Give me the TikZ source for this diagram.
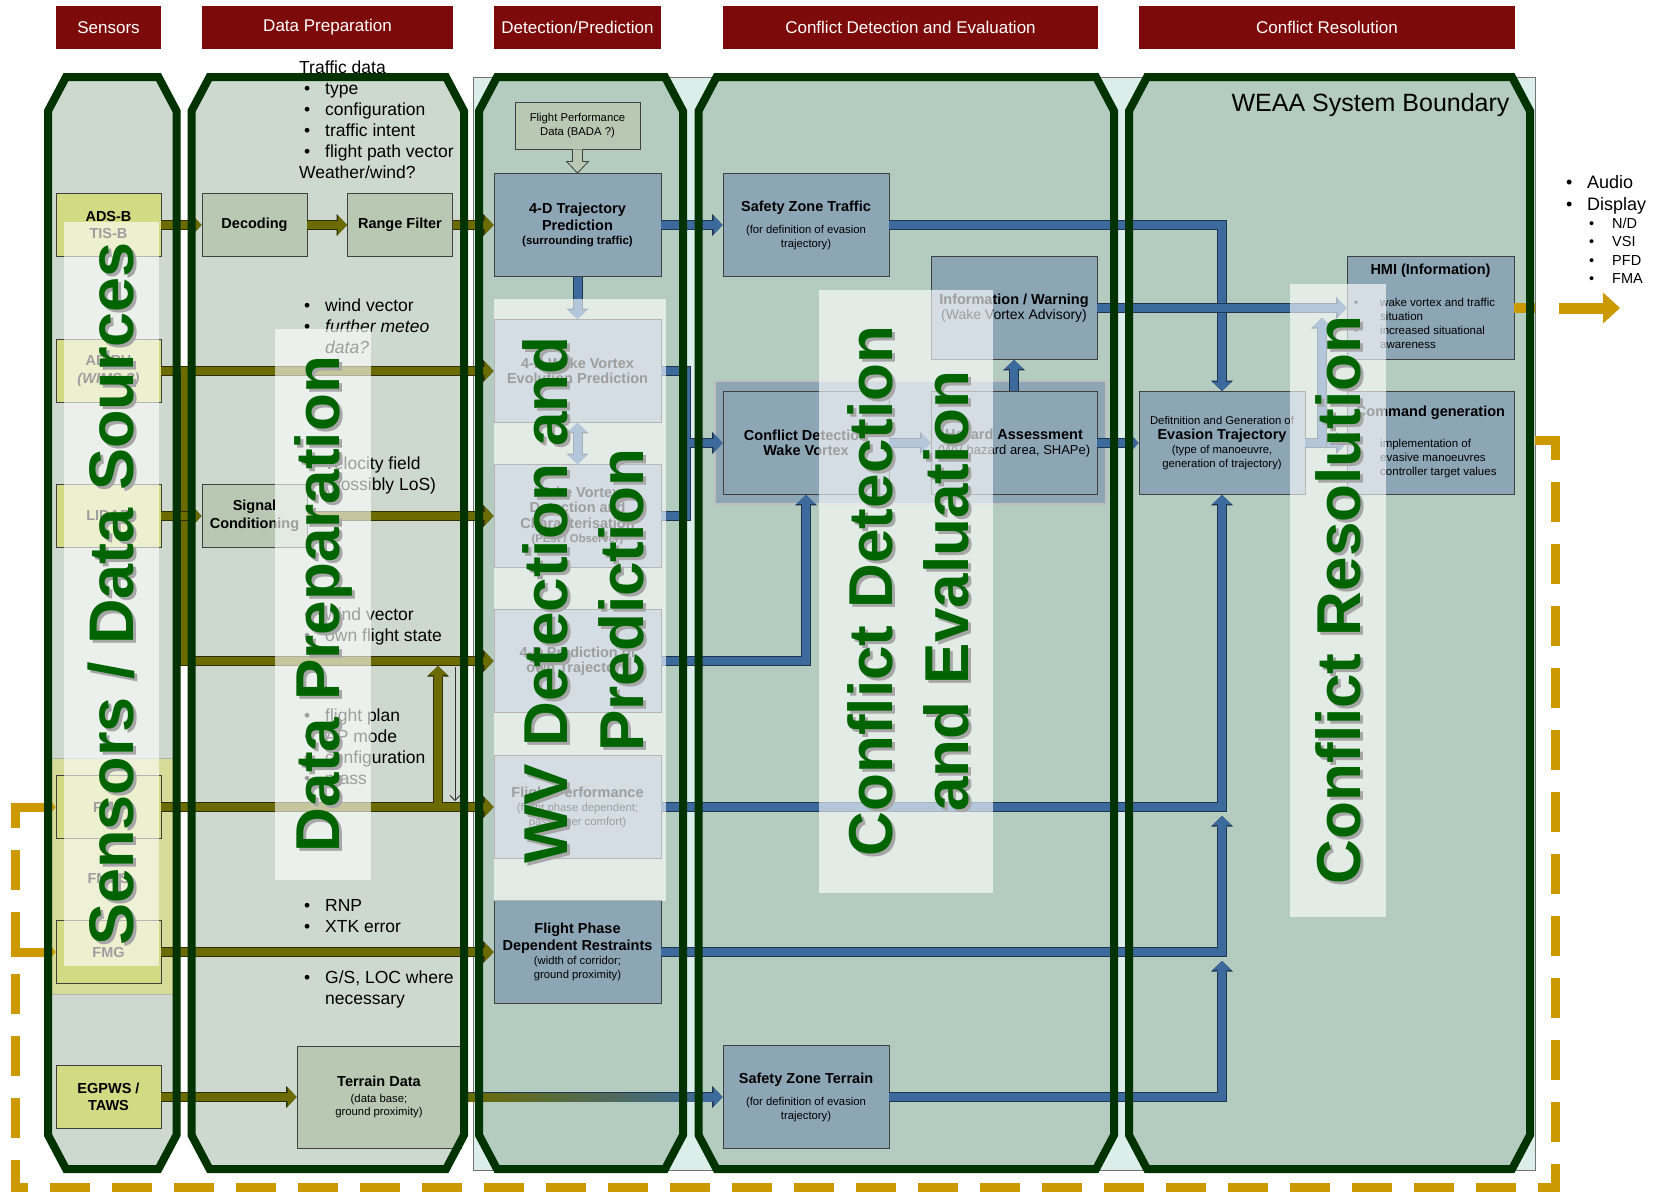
\documentclass[tikz,border=0pt]{standalone}
\usepackage{fontspec}
\setmainfont{Liberation Sans}
\usetikzlibrary{arrows.meta,calc,positioning}

\definecolor{hdrred}{HTML}{7D0A0A}
\definecolor{colgray}{HTML}{CDD9CF}
\definecolor{colgreen}{HTML}{B4CBBF}
\definecolor{weaacyan}{HTML}{DCEEEA}
\definecolor{borderg}{HTML}{003300}
\definecolor{sensyel}{HTML}{D2DA83}
\definecolor{fmsyel}{HTML}{D6DC98}
\definecolor{prepgreen}{HTML}{B8C8B3}
\definecolor{boxblue}{HTML}{8DA6B6}
\definecolor{olivefill}{HTML}{6B6B00}
\definecolor{oliveline}{HTML}{2E2E00}
\definecolor{bluefill}{HTML}{3C6A9C}
\definecolor{blueline}{HTML}{1E3550}
\definecolor{goldfill}{HTML}{CC9A00}
\definecolor{goldline}{HTML}{CC9A00}
\definecolor{biggreen}{HTML}{006400}

\newcommand{\ttl}[1]{{\bfseries\fontsize{14.5}{17}\selectfont #1}}
\newcommand{\itm}{\hspace*{5pt}\makebox[21pt][l]{•}}

\tikzset{
  header/.style={fill=hdrred, text=white, font=\fontsize{17}{20}\selectfont, minimum height=43pt, inner sep=0pt},
  box/.style={draw=black!75, line width=0.8pt, align=center, inner sep=1pt, font=\fontsize{11.3}{13.5}\selectfont, minimum width=#1, minimum height=103pt},
  sensbox/.style={box=105pt, fill=sensyel, minimum height=63pt, font=\bfseries\fontsize{14.5}{17.5}\selectfont},
  prepbox/.style={box=105pt, fill=prepgreen, minimum height=63pt, font=\bfseries\fontsize{14.5}{17.5}\selectfont},
  bluebox/.style={box=#1, fill=boxblue},
  bluebox/.default=167pt,
  listtext/.style={anchor=north west, inner sep=0pt, align=left, font=\fontsize{17.5}{21}\selectfont},
  pipe/.style={draw=#1fill, line width=8pt, preaction={draw=#1line, line width=10pt}},
  pipetip/.style={draw=#1fill, line width=8pt, -{Triangle[length=9pt,width=19pt,line width=0pt]},
    preaction={draw=#1line, line width=10pt, -{Triangle[length=10.5pt,width=22pt,line width=0pt]}}},
  pipetwo/.style={draw=#1fill, line width=8pt, {Triangle[length=9pt,width=19pt,line width=0pt]}-{Triangle[length=9pt,width=19pt,line width=0pt]},
    preaction={draw=#1line, line width=10pt, {Triangle[length=10.5pt,width=22pt,line width=0pt]}-{Triangle[length=10.5pt,width=22pt,line width=0pt]}}},
  goldtip/.style={draw=goldfill, line width=9pt, -{Triangle[length=10pt,width=26pt,line width=0pt]}},
  bigtitle/.style={rotate=90, align=center, inner sep=0pt, text=biggreen, font=\bfseries\fontsize{62}{76}\selectfont},
  bigshadow/.style={bigtitle, text=black!35},
  veil/.style={fill=white, opacity=0.62}
}

\begin{document}
\begin{tikzpicture}[x=1pt, y=-1pt, line join=miter]
\useasboundingbox (0,0) rectangle (1661,1192);

\node[header, minimum width=105pt] (hsens) at (108.5,27.5) {Sensors};
\node[header, minimum width=251pt] (hprep) at (327.5,27.5) {Data Preparation};
\node[header, minimum width=167pt] (hdet) at (577.5,27.5) {Detection/Prediction};
\node[header, minimum width=375pt] (hconf) at (910.5,27.5) {Conflict Detection and Evaluation};
\node[header, minimum width=376pt] (hres) at (1327,27.5) {Conflict Resolution};

\filldraw[fill=weaacyan, draw=black!55, line width=0.8pt] (473,77) rectangle (1535,1170);
\foreach \xa/\xb/\c in {48/176.5/colgray, 191.5/464/colgray, 479/683/colgreen, 698.5/1114/colgreen, 1129/1530/colgreen}
  \fill[\c] (\xa+18,77) -- (\xb-18,77) -- (\xb,111) -- (\xb,1135) -- (\xb-18,1169) -- (\xa+18,1169) -- (\xa,1135) -- (\xa,111) -- cycle;
\filldraw[fill=fmsyel, draw=black!30, line width=0.8pt] (47,758) rectangle (173,994);
\filldraw[fill=boxblue, draw=black!25, line width=1.5pt] (715,381) rectangle (1106,504);

\node[anchor=east, font=\fontsize{25}{30}\selectfont] (weaalabel) at (1513,105) {WEAA System Boundary};

% sensors
\node[sensbox] (adsb) at (108.5,225) {ADS-B\\TIS-B};
\node[sensbox] (adiru) at (108.5,371) {ADIRU\\\textit{(WIMS ?)}};
\node[sensbox] (lidar) at (108.5,516) {LIDAR};
\node[sensbox] (fms) at (108.5,807) {FMS};
\node[font=\bfseries\fontsize{14.5}{17.5}\selectfont] (fmgslabel) at (108.5,878) {FMGS};
\node[sensbox] (fmg) at (108.5,952) {FMG};
\node[sensbox] (egpws) at (108.5,1097) {EGPWS /\\TAWS};

% data preparation
\node[prepbox] (decoding) at (254.5,225) {Decoding};
\node[prepbox] (rangefilter) at (400,225) {Range Filter};
\node[prepbox] (signal) at (254.5,516) {Signal\\Conditioning};
\node[prepbox, minimum width=164pt, minimum height=102pt, font=\fontsize{11.3}{13.5}\selectfont] (terrain) at (379,1097) {\ttl{Terrain Data}\\[2pt](data base;\\ground proximity)};

% detection / prediction
\node[box=125pt, fill=prepgreen, minimum height=47pt] (fpd) at (577.5,125.5) {Flight Performance\\Data (BADA ?)};
\node[bluebox] (traj) at (577.5,225) {\ttl{4-D Trajectory}\\[2pt]\ttl{Prediction}\\[1pt]{\bfseries\fontsize{11.5}{13.5}\selectfont (surrounding traffic)}};
\node[bluebox] (wvevo) at (577.5,371) {\ttl{4-D Wake Vortex}\\[2pt]\ttl{Evolution Prediction}};
\node[bluebox] (wvdet) at (577.5,516) {\ttl{Wake Vortex}\\[2pt]\ttl{Detection and}\\[2pt]\ttl{Characterisation}\\[1pt]{\bfseries (PEst / Observer)}};
\node[bluebox] (owntraj) at (577.5,661) {\ttl{4-D Prediction of}\\[2pt]\ttl{own Trajectory}};
\node[bluebox] (flperf) at (577.5,807) {\ttl{Flight Performance}\\[1pt](flight phase dependent;\\passenger comfort)};
\node[bluebox] (restr) at (577.5,952) {\ttl{Flight Phase}\\[2pt]\ttl{Dependent Restraints}\\[1pt](width of corridor;\\ground proximity)};

% conflict detection and evaluation
\node[bluebox=166pt] (szt) at (806,225) {\ttl{Safety Zone Traffic}\\[9pt](for definition of evasion\\trajectory)};
\node[bluebox=166pt] (info) at (1014,308) {\ttl{Information / Warning}\\[1pt]{\fontsize{14}{17}\selectfont (Wake Vortex Advisory)}};
\node[bluebox=166pt] (cdwv) at (806,443) {\ttl{Conflict Detection}\\[2pt]\ttl{Wake Vortex}};
\node[bluebox=166pt] (hazard) at (1014,443) {\ttl{Hazard Assessment}\\[1pt]{\fontsize{13}{15}\selectfont (WV hazard area, SHAPe)}};
\node[bluebox=166pt] (szterrain) at (806,1097) {\ttl{Safety Zone Terrain}\\[9pt](for definition of evasion\\trajectory)};

% conflict resolution
\node[bluebox=166pt] (evasion) at (1222,443) {Defitnition and Generation of\\[1pt]\ttl{Evasion Trajectory}\\[1pt](type of manoeuvre,\\generation of trajectory)};
\node[bluebox=167pt] (hmi) at (1430.5,308) {};
\node[font=\bfseries\fontsize{14.5}{17}\selectfont] (hmititle) at ($(hmi.north)+(0,15)$) {HMI (Information)};
\node[anchor=north west, inner sep=0pt, align=left, font=\fontsize{11.5}{14}\selectfont] (hmilist) at (1354,298)
  {\makebox[26pt][l]{•}wake vortex and traffic\\\hspace*{26pt}situation\\\makebox[26pt][l]{•}increased situational\\\hspace*{26pt}awareness};
\node[bluebox=167pt] (command) at (1430.5,443) {};
\node[font=\bfseries\fontsize{14.5}{17}\selectfont] (cmdtitle) at ($(command.north)+(0,22)$) {Command generation};
\node[anchor=north west, inner sep=0pt, align=left, font=\fontsize{11.5}{14}\selectfont] (cmdlist) at (1380,439)
  {implementation of\\evasive manoeuvres\\controller target values};

% free ends and bends
\coordinate (adiruj) at (185,371);
\coordinate (fmsj) at (438,803);
\coordinate (ownj) at (438,666);
\coordinate (thinA) at (455,667);
\coordinate (thinB) at (455,801);
\coordinate (wvtop) at (686,371);
\coordinate (wvbot) at (686,516);
\coordinate (wvbus) at (690,443);
\coordinate (fpj) at (1222,816);
\coordinate (rsj) at (1222,961);
\coordinate (hmiup) at (1322,318);
\coordinate (goldout) at (1535,308);
\coordinate (outa) at (1559,308);
\coordinate (outb) at (1620,308);
\coordinate (loopstart) at (1535,440);
\coordinate (loopr) at (1555,1187);
\coordinate (loopl) at (15,1187);

% olive connectors
\draw[pipetip=olive] (adsb.east) -- (decoding.west);
\draw[pipetip=olive] (decoding.east) -- (rangefilter.west);
\draw[pipetip=olive] (rangefilter.east) -- (traj.west);
\draw[pipetip=olive] (adiru.east) -- (wvevo.west);
\draw[pipetip=olive] (adiruj) |- (owntraj.west);
\draw[pipetip=olive] (lidar.east) -- (signal.west);
\draw[pipetip=olive] (signal.east) -- (wvdet.west);
\draw[pipetip=olive] (fms.east) -- (flperf.west);
\draw[pipetip=olive] (fmsj) -- (ownj);
\draw[black!80, line width=0.8pt, -{Straight Barb[length=5pt]}] (thinA) -- (thinB);
\draw[pipetip=olive] (fmg.east) -- (restr.west);
\draw[pipetip=olive] (egpws.east) -- (terrain.west);
\draw[pipetip=blue] (terrain.east) -- (szterrain.west);
\shade[left color=olivefill, right color=bluefill] ($(terrain.east)+(0,-4)$) rectangle ($(szterrain.west)+(-10,4)$);

% blue connectors
\draw[fill=prepgreen, draw=black!75, line width=0.8pt] ($(fpd.south)+(-5,0)$) -- ($(fpd.south)+(-5,12)$) -- ($(fpd.south)+(-11,12)$) -- (traj.north)
  -- ($(fpd.south)+(11,12)$) -- ($(fpd.south)+(5,12)$) -- ($(fpd.south)+(5,0)$);
\draw[pipetip=blue] (traj.east) -- (szt.west);
\draw[pipetip=blue] (traj.south) -- (wvevo.north);
\draw[pipetwo=blue] (wvevo.south) -- (wvdet.north);
\draw[pipe=blue] (wvevo.east) -- (wvtop) -- (wvbot) -- (wvdet.east);
\draw[pipetip=blue] (wvbus) -- (cdwv.west);
\draw[pipetip=blue] (owntraj.east) -| (cdwv.south);
\draw[pipetip=blue] (cdwv.east) -- (hazard.west);
\draw[pipetip=blue] (hazard.north) -- (info.south);
\draw[pipetip=blue] (hazard.east) -- (evasion.west);
\draw[pipetip=blue] (szt.east) -| (evasion.north);
\draw[pipetip=blue] (info.east) -- (hmi.west);
\draw[pipetip=blue] (flperf.east) -| (evasion.south);
\draw[pipetip=blue] (restr.east) -| (fpj);
\draw[pipetip=blue] (szterrain.east) -| (rsj);
\draw[pipetip=blue] (evasion.east) -- (command.west);
\draw[pipetip=blue] (evasion.east) -| (hmiup);

% gold output and feedback loop
\draw[pipe=gold] (hmi.east) -- (goldout);
\draw[draw=goldfill, line width=11pt, -{Triangle[length=17pt,width=31pt,line width=0pt]}] (outa) -- (outb);
\draw[goldfill, line width=9pt, dash pattern=on 40pt off 22pt] (loopstart) -| (loopr) -- (loopl) -- (loopl |- fms.west);
\draw[goldtip] ($(loopl |- fms.west)+(-4.5,0)$) -- (fms.west);
\draw[goldtip] ($(loopl |- fmg.west)+(-4.5,0)$) -- (fmg.west);

\foreach \xa/\xb in {48/176.5, 191.5/464, 479/683, 698.5/1114, 1129/1530}
  \draw[borderg, line width=8pt] (\xa+18,77) -- (\xb-18,77) -- (\xb,111) -- (\xb,1135) -- (\xb-18,1169) -- (\xa+18,1169) -- (\xa,1135) -- (\xa,111) -- cycle;

% text lists
\node[listtext] (trafficlist) at (299,60.5) {Traffic data\\\itm type\\\itm configuration\\\itm traffic intent\\\itm flight path vector\\Weather/wind?};
\node[listtext] (meteolist) at (299,298.5) {\itm wind vector\\\itm \textit{further meteo}\\\hspace*{26pt}\textit{data?}};
\node[listtext] (velolist) at (299,456.5) {\itm velocity field\\\hspace*{26pt}(possibly LoS)};
\node[listtext] (statelist) at (299,607.5) {\itm wind vector\\\itm own flight state};
\node[listtext] (planlist) at (299,708.5) {\itm flight plan\\\itm AP mode\\\itm configuration\\\itm mass};
\node[listtext] (rnplist) at (299,899.5) {\itm RNP\\\itm XTK error};
\node[listtext] (gslist) at (299,970.5) {\itm G/S, LOC where\\\hspace*{26pt}necessary};
\node[listtext, font=\fontsize{18}{22}\selectfont] (outlist) at (1561,175.5) {\itm Audio\\\itm Display};
\node[listtext, font=\fontsize{14.5}{18.5}\selectfont] (displist) at (1584,217.5)
  {\hspace*{5pt}\makebox[23pt][l]{•}N/D\\\hspace*{5pt}\makebox[23pt][l]{•}VSI\\\hspace*{5pt}\makebox[23pt][l]{•}PFD\\\hspace*{5pt}\makebox[23pt][l]{•}FMA};

% veils and column titles
\fill[veil] (64,222) rectangle (159,966);
\node[bigshadow, font=\bfseries\fontsize{63}{76}\selectfont] (sensshadow) at (114,597) {Sensors / Data Sources};
\node[bigtitle, font=\bfseries\fontsize{63}{76}\selectfont] (senstitle) at (111,594) {Sensors / Data Sources};
\fill[veil] (275,329) rectangle (371,880);
\node[bigshadow] (prepshadow) at (326,607) {Data Preparation};
\node[bigtitle] (preptitle) at (323,604) {Data Preparation};
\fill[veil] (494,299) rectangle (666,901);
\node[bigshadow] (detshadow) at (586,603) {WV Detection and\\Prediction};
\node[bigtitle] (dettitle) at (583,600) {WV Detection and\\Prediction};
\fill[veil] (819,290) rectangle (993,893);
\node[bigshadow] (confshadow) at (911,594) {Conflict Detection\\and Evaluation};
\node[bigtitle] (conftitle) at (908,591) {Conflict Detection\\and Evaluation};
\fill[veil] (1290,284) rectangle (1386,917);
\node[bigshadow] (resshadow) at (1341,603) {Conflict Resolution};
\node[bigtitle] (restitle) at (1338,600) {Conflict Resolution};
\end{tikzpicture}
\end{document}
